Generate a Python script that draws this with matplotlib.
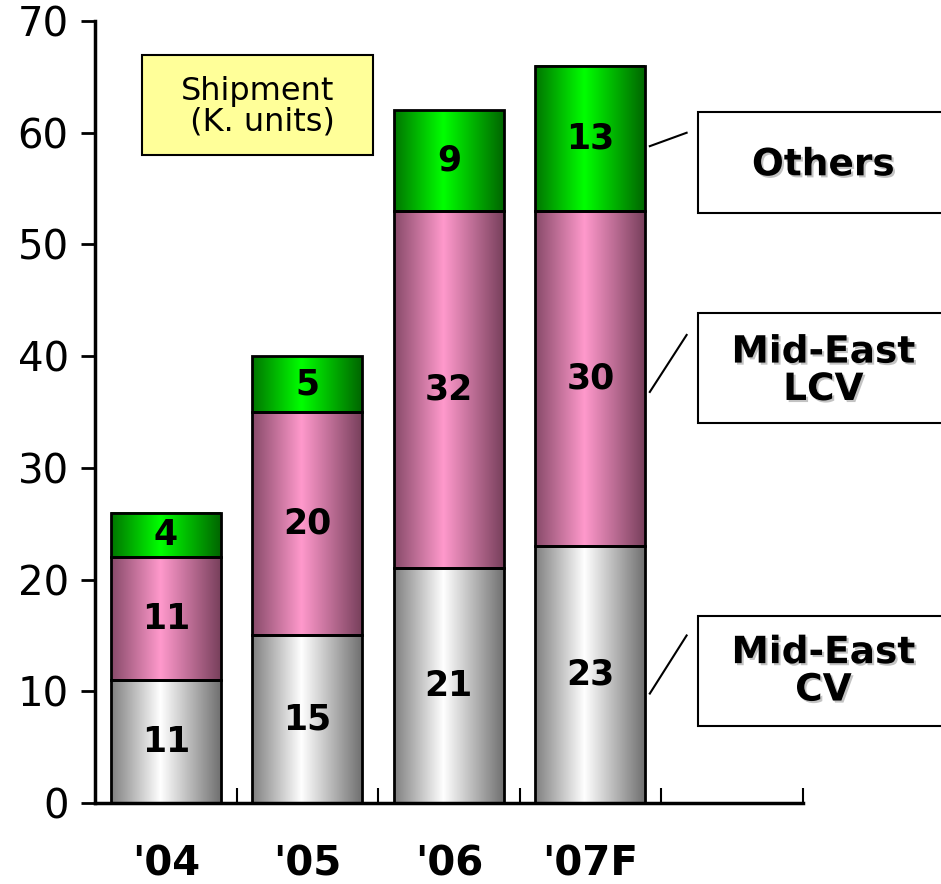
import numpy as np
import matplotlib
matplotlib.use("Agg")
import matplotlib.pyplot as plt
from matplotlib.patches import Rectangle
import matplotlib.patheffects as pe

# Shipment data (K. units) ---------------------------------------------------------------- data
years = ["'04", "'05", "'06", "'07F"]
mideast_cv = [11, 15, 21, 23]
mideast_lcv = [11, 20, 32, 30]
others = [4, 5, 9, 13]
series_names = ["Mid-East\nCV", "Mid-East\nLCV", "Others"]

# edge / centre colours for the cylinder-like shading of each series
shades = [
    ((0.50, 0.50, 0.50), (1.0, 1.0, 1.0), (0.44, 0.44, 0.44)),
    ((0.53, 0.29, 0.41), (1.0, 0.60, 0.80), (0.47, 0.25, 0.36)),
    ((0.0, 0.46, 0.0), (0.0, 1.0, 0.0), (0.0, 0.40, 0.0)),
]

plt.rcParams['font.family'] = ['DejaVu Sans']


def gradient(left, mid, right, n=200, c=0.45):
    t = np.linspace(0, 1, n)
    img = np.zeros((1, n, 3))
    for i, tt in enumerate(t):
        if tt <= c:
            f = 1 - (c - tt) / c
            edge = np.array(left)
        else:
            f = 1 - (tt - c) / (1 - c)
            edge = np.array(right)
        img[0, i] = edge + (np.array(mid) - edge) * f
    return img


fig = plt.figure(figsize=(9.41, 8.84), dpi=100)
ax = fig.add_axes([0.101, 0.0916, 0.752, 0.8846])

width = 0.777
x = np.arange(len(years))
bottom = np.zeros(len(years))
for vals, (l, m, r) in zip([mideast_cv, mideast_lcv, others], shades):
    img = gradient(l, m, r)
    for i, v in enumerate(vals):
        x0 = x[i] - width / 2
        ax.imshow(img, extent=(x0, x0 + width, bottom[i], bottom[i] + v),
                  aspect='auto', interpolation='bilinear', zorder=2)
        ax.add_patch(Rectangle((x0, bottom[i]), width, v, fill=False,
                               edgecolor='black', lw=2, zorder=3))
        ax.text(x[i], bottom[i] + v / 2, str(v), ha='center', va='center',
                fontsize=25, fontweight='bold', zorder=4)
    bottom += np.array(vals)

ax.set_xlim(-0.5, 4.5)
ax.set_ylim(0, 70)
ax.set_yticks(np.arange(0, 71, 10))
ax.tick_params(axis='y', labelsize=29, length=10, width=2, pad=9)
ax.set_xticks(x)
ax.set_xticklabels(years, fontsize=29, fontweight='bold')
ax.tick_params(axis='x', length=0, pad=30)
ax.set_xticks(np.arange(0.5, 5, 1), minor=True)
ax.tick_params(axis='x', which='minor', direction='in', length=11, width=1.5)
for s in ['top', 'right']:
    ax.spines[s].set_visible(False)
for s in ['left', 'bottom']:
    ax.spines[s].set_linewidth(2.5)

# leader lines from the '07F bar to the series boxes
leaders = [((3.42, 9.8), (3.68, 15.0)), ((3.42, 36.8), (3.68, 41.9)), ((3.42, 58.8), (3.68, 60.0))]
for (p0, p1) in leaders:
    ax.plot([p0[0], p1[0]], [p0[1], p1[1]], color='black', lw=1.5, clip_on=False)

# series name boxes on the right
boxes = [(0.179, 0.124, 0.240), (0.5215, 0.1245, 0.580), (0.759, 0.114, 0.813)]
for name, (y0, h, yc) in zip(series_names, boxes):
    fig.patches.append(Rectangle((0.742, y0), 0.27, h, transform=fig.transFigure,
                                 facecolor='white', edgecolor='black', lw=1.5))
    fig.text(0.875, yc, name, ha='center', va='center', fontsize=27,
             fontweight='bold', linespacing=1.05,
             path_effects=[pe.withSimplePatchShadow(offset=(1.5, -1.5),
                                                    shadow_rgbFace='#aaaaaa', alpha=0.7)])

# unit label
fig.patches.append(Rectangle((0.151, 0.8247), 0.245, 0.1131, transform=fig.transFigure,
                             facecolor='#ffff99', edgecolor='black', lw=1.5))
fig.text(0.274, 0.879, "Shipment\n (K. units)", ha='center', va='center',
         fontsize=23, linespacing=1.0)

fig.savefig("out.png", dpi=100)
